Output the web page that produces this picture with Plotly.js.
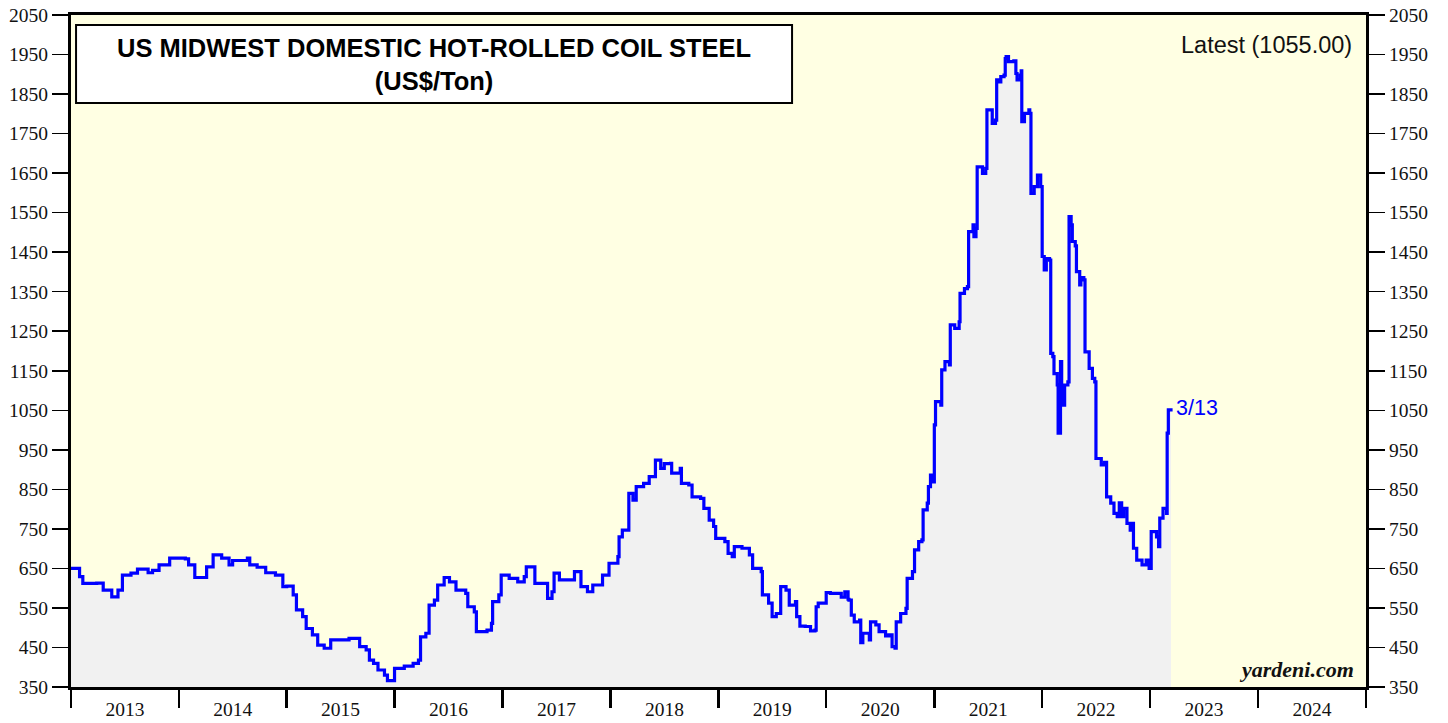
<!DOCTYPE html>
<html>
<head>
<meta charset="utf-8">
<script src="https://cdn.plot.ly/plotly-3.0.1.min.js"></script>
<style>
  html, body { margin: 0; padding: 0; background: #fff; }
  #chart { width: 1448px; height: 723px; }
</style>
</head>
<body>
<div id="chart"></div>
<script>
// hot-rolled coil steel price

const dates = [
  "2013-01-01", "2013-01-30", "2013-02-10", "2013-03-29", "2013-04-20", "2013-05-19", "2013-06-09", "2013-06-24",
  "2013-07-23", "2013-08-14", "2013-09-19", "2013-10-04", "2013-10-26", "2013-12-01",
  "2014-01-23", "2014-02-03", "2014-02-24", "2014-03-22", "2014-04-05", "2014-04-27", "2014-05-26", "2014-06-20",
  "2014-07-02", "2014-08-21", "2014-08-29", "2014-09-23", "2014-10-22", "2014-11-24", "2014-12-19",
  "2015-01-01", "2015-01-23", "2015-02-03", "2015-02-24", "2015-03-08", "2015-03-29", "2015-04-16", "2015-05-08",
  "2015-05-30", "2015-06-28", "2015-07-31", "2015-09-05", "2015-09-27", "2015-10-08", "2015-10-22", "2015-11-06",
  "2015-11-28", "2015-12-08", "2015-12-23",
  "2016-01-01", "2016-01-30", "2016-02-03", "2016-03-04", "2016-03-22", "2016-03-29", "2016-04-16", "2016-04-27",
  "2016-05-15", "2016-05-26", "2016-06-17", "2016-07-05", "2016-07-27", "2016-08-29", "2016-09-05", "2016-09-27",
  "2016-10-04", "2016-11-09", "2016-11-24", "2016-11-28", "2016-12-19", "2016-12-27",
  "2017-01-23", "2017-02-21", "2017-03-15", "2017-03-22", "2017-04-09", "2017-04-20", "2017-05-26", "2017-06-02",
  "2017-06-17", "2017-06-24", "2017-07-12", "2017-08-25", "2017-09-01", "2017-09-23", "2017-10-15", "2017-11-02",
  "2017-11-24", "2017-12-05", "2017-12-27",
  "2018-01-26", "2018-01-30", "2018-02-10", "2018-02-28", "2018-03-04", "2018-03-18", "2018-03-29", "2018-04-23",
  "2018-05-12", "2018-05-30", "2018-06-02", "2018-06-20", "2018-07-02", "2018-07-23", "2018-07-27", "2018-08-25",
  "2018-08-29", "2018-09-23", "2018-10-04", "2018-11-02", "2018-11-13", "2018-12-01", "2018-12-16", "2018-12-23",
  "2019-01-23", "2019-02-03", "2019-02-17", "2019-02-24", "2019-03-22", "2019-04-16", "2019-04-27", "2019-05-26",
  "2019-05-30", "2019-06-20", "2019-07-02", "2019-07-16", "2019-07-31", "2019-08-18", "2019-08-29", "2019-09-19",
  "2019-09-23", "2019-10-04", "2019-10-22", "2019-11-09", "2019-11-24", "2019-11-28", "2019-12-05", "2019-12-23",
  "2020-01-01", "2020-01-15", "2020-02-21", "2020-03-04", "2020-03-15", "2020-03-18", "2020-03-26", "2020-04-05",
  "2020-04-23", "2020-04-27", "2020-05-04", "2020-05-26", "2020-05-30", "2020-06-17", "2020-06-28", "2020-07-20",
  "2020-07-31", "2020-08-11", "2020-08-21", "2020-08-25", "2020-09-09", "2020-09-27", "2020-10-01", "2020-10-19",
  "2020-10-26", "2020-11-09", "2020-11-20", "2020-11-24", "2020-12-08", "2020-12-12", "2020-12-19", "2020-12-27",
  "2021-01-01", "2021-01-05", "2021-01-23", "2021-01-26", "2021-02-06", "2021-02-21", "2021-02-24", "2021-03-11",
  "2021-03-26", "2021-03-29", "2021-04-13", "2021-04-23", "2021-04-27", "2021-05-12", "2021-05-15", "2021-05-22",
  "2021-05-26", "2021-06-13", "2021-06-24", "2021-06-28", "2021-07-16", "2021-07-27", "2021-07-31", "2021-08-07",
  "2021-08-14", "2021-08-25", "2021-08-29", "2021-09-01", "2021-09-09", "2021-09-27", "2021-10-04", "2021-10-08",
  "2021-10-19", "2021-10-22", "2021-10-24", "2021-11-02", "2021-11-17", "2021-11-20", "2021-11-24", "2021-12-05",
  "2021-12-16", "2021-12-27",
  "2022-01-01", "2022-01-08", "2022-01-15", "2022-01-26", "2022-01-30", "2022-02-06", "2022-02-10", "2022-02-21",
  "2022-02-24", "2022-03-04", "2022-03-08", "2022-03-18", "2022-03-29", "2022-04-02", "2022-04-09", "2022-04-13",
  "2022-04-23", "2022-04-27", "2022-05-08", "2022-05-12", "2022-05-22", "2022-05-26", "2022-06-09", "2022-06-20",
  "2022-06-28", "2022-07-02", "2022-07-20", "2022-07-31", "2022-08-07", "2022-08-21", "2022-09-01", "2022-09-12",
  "2022-09-19", "2022-09-27", "2022-10-04", "2022-10-15", "2022-10-26", "2022-11-02", "2022-11-06", "2022-11-17",
  "2022-12-05", "2022-12-19", "2022-12-29",
  "2023-01-05", "2023-01-23", "2023-01-30", "2023-02-03", "2023-02-14", "2023-02-24", "2023-02-26", "2023-02-28",
  "2023-03-04", "2023-03-13"
];

const prices = [
  650, 629, 612, 613, 595, 578, 595, 633,
  638, 648, 639, 645, 659, 676,
  674, 659, 627, 627, 654, 684, 676, 659,
  670, 676, 659, 653, 639, 633, 604,
  605, 583, 545, 528, 498, 482, 456, 448,
  469, 469, 473, 452, 444, 418, 410, 393,
  380, 366, 366,
  397, 397, 403, 410, 418, 477, 486, 557,
  570, 608, 627, 616, 595, 587, 553, 540,
  490, 494, 511, 566, 583, 633,
  625, 616, 629, 654, 654, 612, 612, 574,
  591, 638, 621, 621, 642, 604, 591, 608,
  608, 633, 663,
  680, 730, 747, 747, 840, 823, 857, 865,
  882, 882, 924, 903, 915, 916, 891, 903,
  865, 861, 831, 827, 802, 772, 756, 726,
  718, 688, 680, 705, 701, 684, 650, 642,
  583, 562, 528, 536, 604, 595, 557, 566,
  528, 504, 503, 492, 494, 553, 562, 562,
  589, 587, 577, 591, 572, 570, 532, 515,
  519, 462, 486, 469, 515, 507, 490, 479,
  482, 452, 448, 515, 536, 549, 625, 642,
  697, 718, 722, 798, 815, 857, 886, 869,
  1013, 1072, 1063, 1152, 1173, 1165, 1266, 1257,
  1274, 1346, 1358, 1363, 1502, 1519, 1489, 1510,
  1666, 1649, 1662, 1810, 1776, 1784, 1886, 1881,
  1894, 1898, 1940, 1945, 1932, 1934, 1902, 1886,
  1898, 1909, 1780, 1801, 1810, 1801, 1599, 1616,
  1645, 1616,
  1439, 1405, 1434, 1430, 1194, 1186, 1143, 1114,
  992, 1173, 1063, 1114, 1122, 1540, 1519, 1477,
  1466, 1401, 1367, 1386, 1380, 1198, 1156, 1131,
  1122, 928, 912, 918, 831, 815, 789, 781,
  816, 781, 802, 764, 747, 764, 701, 671,
  659, 671, 650,
  743, 730, 705, 777, 802, 802, 789, 992,
  1051, 1055
];

const latestLabel = "3/13";
const latestValue = 1055.00;

const serif = "Liberation Serif, Times New Roman, serif";
const sans = "Liberation Sans, Arial, sans-serif";

const yAxisBase = {
  range: [350, 2050],
  tick0: 350,
  dtick: 100,
  ticks: "outside",
  ticklen: 16,
  tickwidth: 1.5,
  tickcolor: "#000",
  showgrid: false,
  zeroline: false,
  showline: true,
  linewidth: 3,
  linecolor: "#000",
  fixedrange: true,
  tickfont: { family: serif, size: 19.5, color: "#111" },
};

const layout = {
  width: 1448,
  height: 723,
  margin: { l: 71, r: 82, t: 15, b: 36 },
  paper_bgcolor: "#ffffff",
  plot_bgcolor: "#ffffe3",
  showlegend: false,
  xaxis: {
    type: "date",
    range: ["2013-01-01", "2025-01-01"],
    tick0: "2013-01-01",
    dtick: "M12",
    tickformat: "%Y",
    ticklabelmode: "period",
    ticks: "outside",
    ticklen: 18,
    tickwidth: 2.5,
    tickcolor: "#000",
    ticklabelstandoff: -15,
    showgrid: false,
    zeroline: false,
    showline: true,
    mirror: true,
    linewidth: 3,
    linecolor: "#000",
    fixedrange: true,
    tickfont: { family: serif, size: 19.5, color: "#111" },
  },
  yaxis: Object.assign({}, yAxisBase, { side: "left" }),
  yaxis2: Object.assign({}, yAxisBase, { side: "right", overlaying: "y", matches: "y" }),
  shapes: [
    {
      type: "rect",
      xref: "paper", yref: "paper",
      x0: 0.0039, x1: 0.5568, y0: 0.869, y1: 0.9851,
      fillcolor: "#ffffff",
      line: { color: "#000", width: 2 },
    },
  ],
  annotations: [
    {
      xref: "paper", yref: "paper",
      x: 0.2803, y: 0.9256,
      xanchor: "center", yanchor: "middle",
      showarrow: false,
      text: "<b>US MIDWEST DOMESTIC HOT-ROLLED COIL STEEL<br>(US$/Ton)</b>",
      font: { family: sans, size: 25.5, color: "#000" },
    },
    {
      xref: "paper", yref: "paper",
      x: 0.9907, y: 0.9554,
      xanchor: "right", yanchor: "middle",
      showarrow: false,
      text: "Latest (" + latestValue.toFixed(2) + ")",
      font: { family: sans, size: 23.5, color: "#111" },
    },
    {
      xref: "paper", yref: "paper",
      x: 0.9923, y: 0.004,
      xanchor: "right", yanchor: "bottom",
      showarrow: false,
      text: "<b><i>yardeni.com</i></b>",
      font: { family: serif, size: 22, color: "#111" },
    },
    {
      xref: "x", yref: "y",
      x: dates[dates.length - 1], y: prices[prices.length - 1],
      xanchor: "left", yanchor: "middle",
      xshift: 3,
      showarrow: false,
      text: latestLabel,
      font: { family: sans, size: 21.5, color: "#0000ff" },
    },
  ],
};

function prepData() {
  return [
    {
      x: dates,
      y: prices,
      type: "scatter",
      mode: "lines",
      fill: "tozeroy",
      fillcolor: "#f1f1f1",
      line: { color: "#0000ff", width: 3.2, shape: "hv" },
      hoverinfo: "skip",
    },
    {
      // empty trace so the right-hand axis is drawn
      x: [dates[0]],
      y: [null],
      yaxis: "y2",
      type: "scatter",
      mode: "lines",
      hoverinfo: "skip",
    },
  ];
}

Plotly.newPlot("chart", prepData(), layout, { staticPlot: true, displayModeBar: false });
</script>
</body>
</html>
